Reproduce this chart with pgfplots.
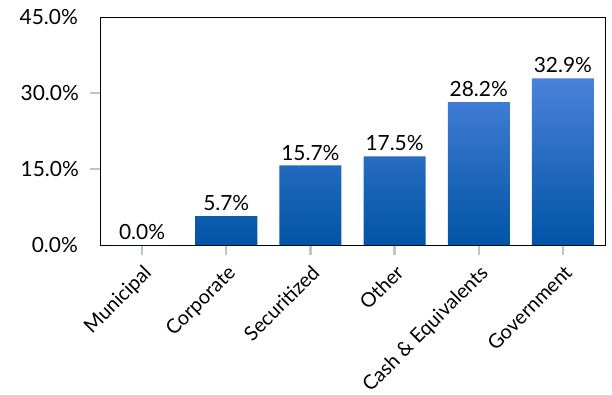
\documentclass[border=0pt]{standalone}
\usepackage{fontspec}
\setmainfont{Lato}
\usepackage{pgfplots}
\pgfplotsset{compat=1.18}
\definecolor{bartop}{RGB}{74,130,218}
\definecolor{barbot}{RGB}{0,84,166}
\definecolor{tickgray}{RGB}{192,196,200}
\begin{document}
\begin{tikzpicture}
\useasboundingbox (-100bp,-150bp) rectangle (512bp,245bp);
\begin{axis}[
  at={(0,0)}, anchor=south west,
  scale only axis, width=505bp, height=228bp,
  xmin=-0.5, xmax=5.5, ymin=0, ymax=45,
  axis line style={black, line width=0.9pt},
  ytick={15,30}, yticklabels={15.0\%,30.0\%},
  extra y ticks={0,45}, extra y tick labels={0.0\%,45.0\%},
  extra y tick style={major tick length=0pt, y tick label style={xshift=-11bp}},
  xtick={0,...,5},
  xticklabels={Municipal,Corporate,Securitized,Other,Cash \& Equivalents,Government},
  x tick label style={rotate=45, anchor=north east, inner sep=1pt, xshift=-5bp, yshift=-5bp, font=\fontsize{20}{24}\selectfont},
  y tick label style={inner sep=2bp, xshift=-9bp, font=\fontsize{21}{24}\selectfont},
  tick style={tickgray, line width=2.5bp},
  major tick length=10bp,
  tick align=outside,
  xtick pos=bottom, ytick pos=left,
  font=\fontsize{21}{24}\selectfont,
  /pgf/number format/assume math mode=true,
  clip=false,
]
\addplot[ybar, bar width=62bp, draw=none, top color=bartop, bottom color=barbot,
  nodes near coords={\pgfmathprintnumber[fixed,fixed zerofill,precision=1]{\pgfplotspointmeta}\%},
  nodes near coords style={text=black, font=\fontsize{21}{24}\selectfont, inner sep=5bp, /pgf/number format/assume math mode=true},
] coordinates {(0,0) (1,5.7) (2,15.7) (3,17.5) (4,28.2) (5,32.9)};
\end{axis}
\end{tikzpicture}
\end{document}
